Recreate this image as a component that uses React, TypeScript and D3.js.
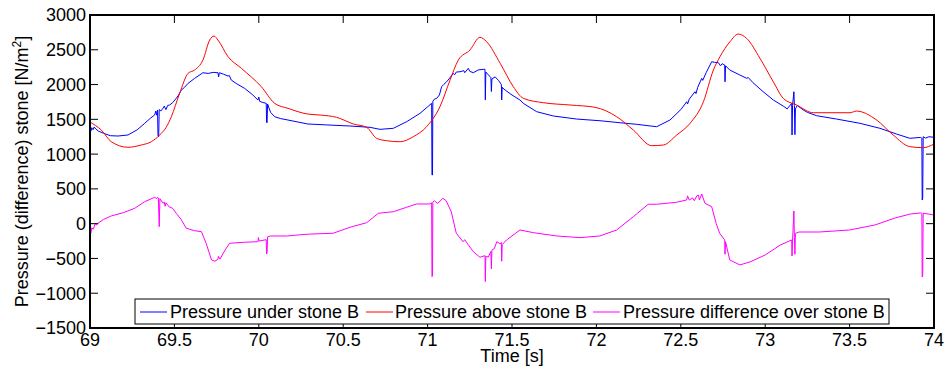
import React from "react";
import * as d3 from "d3";

// Time [s] and pressure [N/m^2] pairs
const underStone: [number, number][] = [
  [69.0, 1390], [69.005, 1330], [69.01, 1380], [69.018, 1350], [69.025, 1390], [69.035, 1360],
  [69.05, 1330], [69.08, 1300], [69.12, 1265], [69.166, 1260], [69.225, 1275], [69.28, 1350],
  [69.324, 1443], [69.36, 1520], [69.383, 1562], [69.39, 1620], [69.395, 1560], [69.4, 1634],
  [69.403, 1260], [69.407, 1250], [69.41, 1640], [69.42, 1620], [69.432, 1658], [69.44, 1690],
  [69.45, 1640], [69.46, 1700], [69.472, 1706], [69.49, 1740], [69.511, 1802], [69.525, 1850],
  [69.541, 1921], [69.56, 1960], [69.581, 2017], [69.62, 2089], [69.669, 2170], [69.7, 2160],
  [69.73, 2175], [69.758, 2170], [69.762, 2110], [69.766, 2170], [69.79, 2150], [69.818, 2122],
  [69.825, 2130], [69.837, 2065], [69.87, 2010], [69.916, 1945], [69.96, 1860], [69.995, 1778],
  [70.0, 1820], [70.005, 1760], [70.02, 1745], [70.044, 1730], [70.046, 1460], [70.049, 1450],
  [70.052, 1720], [70.07, 1600], [70.094, 1538], [70.13, 1510], [70.173, 1490], [70.29, 1433],
  [70.4, 1420], [70.54, 1404], [70.659, 1385], [70.718, 1356], [70.797, 1371], [70.876, 1466],
  [70.955, 1586], [71.0, 1680], [71.024, 1730], [71.026, 700], [71.029, 700], [71.031, 1760],
  [71.04, 1790], [71.054, 1802], [71.07, 1850], [71.083, 1969], [71.095, 2000], [71.113, 2040],
  [71.13, 2090], [71.152, 2161], [71.16, 2140], [71.17, 2180], [71.192, 2184], [71.215, 2200],
  [71.22, 2170], [71.241, 2233], [71.25, 2190], [71.271, 2170], [71.3, 2210], [71.33, 2219],
  [71.34, 2220], [71.342, 1780], [71.345, 2180], [71.36, 2140], [71.375, 2100], [71.378, 1900],
  [71.381, 2080], [71.4, 2110], [71.42, 2060], [71.437, 2000], [71.439, 1778], [71.442, 1960],
  [71.459, 1921], [71.5, 1850], [71.547, 1778], [71.567, 1730], [71.646, 1610], [71.745, 1548],
  [71.883, 1504], [72.021, 1480], [72.14, 1451], [72.239, 1428], [72.357, 1394], [72.436, 1490],
  [72.5, 1640], [72.535, 1753], [72.54, 1720], [72.55, 1790], [72.584, 1897], [72.59, 1870],
  [72.6, 1960], [72.624, 2089], [72.63, 2060], [72.65, 2170], [72.683, 2328], [72.7, 2320],
  [72.723, 2314], [72.735, 2270], [72.745, 2300], [72.76, 2280], [72.762, 2040], [72.765, 2270],
  [72.79, 2209], [72.85, 2137], [72.89, 2090], [72.9, 2100], [72.928, 2026], [72.988, 1897],
  [73.048, 1778], [73.107, 1691], [73.13, 1650], [73.157, 1730], [73.159, 1275], [73.162, 1700],
  [73.17, 1897], [73.173, 1700], [73.176, 1280], [73.179, 1650], [73.19, 1700], [73.226, 1634],
  [73.25, 1600], [73.305, 1552], [73.423, 1504], [73.561, 1443], [73.68, 1371], [73.778, 1289],
  [73.857, 1227], [73.92, 1240], [73.928, 1230], [73.93, 340], [73.933, 360], [73.936, 1250],
  [73.95, 1230], [73.97, 1250], [74.0, 1242],
];

const aboveStone: [number, number][] = [
  [69.0, 1460], [69.067, 1346], [69.126, 1178], [69.225, 1098], [69.304, 1131], [69.363, 1178],
  [69.413, 1275], [69.45, 1380], [69.482, 1538], [69.531, 1874], [69.581, 2161], [69.62, 2209],
  [69.669, 2352], [69.709, 2640], [69.735, 2697], [69.758, 2640], [69.818, 2400], [69.897, 2233],
  [70.015, 1969], [70.094, 1730], [70.173, 1658], [70.29, 1576], [70.363, 1562], [70.461, 1529],
  [70.56, 1433], [70.639, 1385], [70.698, 1227], [70.757, 1193], [70.837, 1178], [70.915, 1250],
  [70.994, 1394], [71.073, 1681], [71.133, 2065], [71.182, 2352], [71.251, 2496], [71.31, 2679],
  [71.35, 2615], [71.43, 2305], [71.508, 1969], [71.567, 1802], [71.686, 1739], [71.844, 1706],
  [71.992, 1673], [72.12, 1538], [72.219, 1346], [72.328, 1121], [72.397, 1131], [72.476, 1275],
  [72.555, 1443], [72.634, 1753], [72.693, 2209], [72.732, 2400], [72.791, 2615], [72.84, 2726],
  [72.89, 2664], [72.969, 2377], [73.048, 2040], [73.107, 1802], [73.186, 1706], [73.285, 1595],
  [73.384, 1595], [73.502, 1595], [73.541, 1619], [73.66, 1490], [73.758, 1275], [73.857, 1107],
  [73.936, 1092], [74.0, 1145],
];

const differenceOverStone: [number, number][] = [
  [69.0, -90], [69.005, -140], [69.01, -60], [69.02, -80], [69.03, 0], [69.04, -20], [69.047, 6],
  [69.08, 60], [69.126, 111], [69.2, 160], [69.265, 221], [69.324, 316], [69.383, 379],
  [69.395, 360], [69.4, 380], [69.405, 370], [69.41, -43], [69.414, 360], [69.432, 293],
  [69.44, 310], [69.445, 250], [69.45, 300], [69.47, 240], [69.49, 220], [69.511, 149],
  [69.54, 60], [69.57, -66], [69.59, -80], [69.62, -101], [69.66, -115], [69.688, -282],
  [69.72, -522], [69.74, -540], [69.758, -512], [69.76, -470], [69.77, -510], [69.8, -380],
  [69.827, -282], [69.916, -267], [69.995, -259], [69.998, -200], [70.002, -250], [70.044, -230],
  [70.046, -435], [70.049, -420], [70.052, -190], [70.07, -177], [70.17, -177], [70.244, -160],
  [70.3, -150], [70.44, -138], [70.54, -52], [70.639, 14], [70.708, 149], [70.797, 172],
  [70.876, 236], [70.935, 283], [71.014, 283], [71.024, 300], [71.026, -762], [71.029, -750],
  [71.031, 310], [71.04, 330], [71.06, 290], [71.09, 365], [71.11, 330], [71.14, 172],
  [71.17, -138], [71.21, -259], [71.22, -230], [71.24, -300], [71.27, -402], [71.31, -483],
  [71.34, -460], [71.342, -833], [71.345, -470], [71.36, -480], [71.375, -400], [71.378, -650],
  [71.381, -380], [71.395, -360], [71.41, -259], [71.43, -290], [71.437, -270], [71.439, -540],
  [71.442, -300], [71.468, -234], [71.547, -91], [71.626, -129], [71.765, -177], [71.903, -201],
  [72.02, -177], [72.12, -91], [72.219, 101], [72.307, 279], [72.357, 279], [72.476, 308],
  [72.535, 341], [72.54, 400], [72.55, 340], [72.57, 370], [72.58, 330], [72.595, 400],
  [72.605, 410], [72.61, 340], [72.624, 427], [72.643, 293], [72.683, 244], [72.71, 0],
  [72.73, -138], [72.76, -234], [72.762, -440], [72.765, -260], [72.79, -522], [72.85, -593],
  [72.91, -550], [73.0, -450], [73.09, -306], [73.157, -234], [73.159, -464], [73.162, -250],
  [73.17, 182], [73.173, -200], [73.176, -440], [73.179, -140], [73.2, -120], [73.32, -120],
  [73.5, -91], [73.65, -19], [73.77, 82], [73.86, 139], [73.92, 154], [73.928, 150],
  [73.93, -766], [73.933, -740], [73.936, 150], [74.0, 125],
];

const xTicks = [69, 69.5, 70, 70.5, 71, 71.5, 72, 72.5, 73, 73.5, 74];
const yTicks = [-1500, -1000, -500, 0, 500, 1000, 1500, 2000, 2500, 3000];
const seriesNames = ["Pressure under stone B", "Pressure above stone B", "Pressure difference over stone B"];
const seriesColors = ["#0000ff", "#ff0000", "#ff00ff"];

const W = 945, H = 371;
const L = 90, T = 15, R = 934, B = 328;
const FONT = "Arial, 'Liberation Sans', Helvetica, sans-serif";

export default function App() {
  const x = d3.scaleLinear().domain([69, 74]).range([L, R]);
  const y = d3.scaleLinear().domain([-1500, 3000]).range([B, T]);
  const line = d3.line<[number, number]>().x(d => x(d[0])).y(d => y(d[1]));
  const smooth = d3.line<[number, number]>().x(d => x(d[0])).y(d => y(d[1])).curve(d3.curveMonotoneX);
  const fmt = (v: number) => (v < 0 ? "\u2212" + Math.abs(v) : String(v));
  const tk = 8;
  const legendItems = [
    { lx: 140, tx: 170 },
    { lx: 366, tx: 395 },
    { lx: 593, tx: 623 },
  ];
  return (
    <svg width={W} height={H} style={{ position: "absolute", left: 0, top: 0, background: "#fff" }} fontFamily={FONT}>
      <rect x={0} y={0} width={W} height={H} fill="#fff" />
      <path d={line(underStone) || ""} fill="none" stroke={seriesColors[0]} strokeWidth={1} />
      <path d={smooth(aboveStone) || ""} fill="none" stroke={seriesColors[1]} strokeWidth={1} />
      <path d={line(differenceOverStone) || ""} fill="none" stroke={seriesColors[2]} strokeWidth={1} />
      {xTicks.map(t => (
        <g key={"x" + t}>
          <line x1={x(t)} x2={x(t)} y1={B} y2={B - tk} stroke="#000" />
          <line x1={x(t)} x2={x(t)} y1={T} y2={T + tk} stroke="#000" />
          <text x={x(t)} y={346} fontSize={18} textAnchor="middle">{String(t)}</text>
        </g>
      ))}
      {yTicks.map(t => (
        <g key={"y" + t}>
          <line x1={L} x2={L + tk} y1={y(t)} y2={y(t)} stroke="#000" />
          <line x1={R} x2={R - tk} y1={y(t)} y2={y(t)} stroke="#000" />
          <text x={86} y={y(t)} dy="0.36em" fontSize={18} textAnchor="end">{fmt(t)}</text>
        </g>
      ))}
      <rect x={L} y={T} width={R - L} height={B - T} fill="none" stroke="#000" strokeWidth={2} />
      <rect x={135} y={299} width={754} height={25} fill="#fff" stroke="#000" strokeWidth={1} />
      {legendItems.map((it, i) => (
        <g key={"lg" + i}>
          <line x1={it.lx} x2={it.lx + 27} y1={312} y2={312} stroke={seriesColors[i]} strokeWidth={1} />
          <text x={it.tx} y={318} fontSize={18}>{seriesNames[i]}</text>
        </g>
      ))}
      <text x={(L + R) / 2} y={362} fontSize={18} textAnchor="middle">Time [s]</text>
      <text transform={`translate(28,${(T + B) / 2}) rotate(-90)`} fontSize={18} textAnchor="middle">
        Pressure (difference) stone [N/m<tspan dy={-7} fontSize={12}>2</tspan><tspan dy={7}>]</tspan>
      </text>
    </svg>
  );
}
